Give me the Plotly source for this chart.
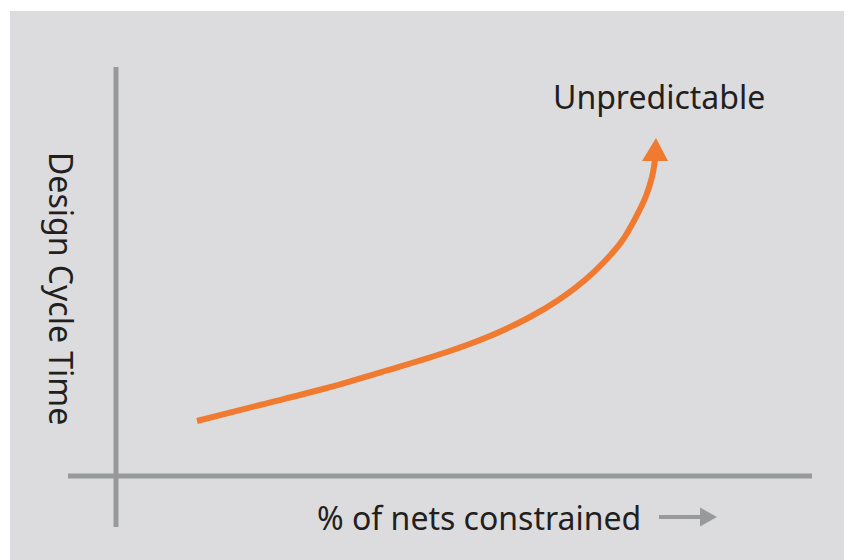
import plotly.graph_objects as go

# Curve data (x: % of nets constrained, y: design cycle time), arbitrary units
curve_x = [81, 144, 207, 269, 331, 374, 414, 444, 469, 489, 506, 520, 530, 536, 539]
curve_y = [55, 71, 87, 105, 124, 140, 159, 177, 196, 215, 235, 259, 280, 299, 316]

x_label = "% of nets constrained"
y_label = "Design Cycle Time"
end_label = "Unpredictable"

ORANGE = "#f07a2f"
GRAY = "#98999b"
BG = "#dcdcde"
TEXT = "#231f20"
FONT = "Noto Sans"

fig = go.Figure()

# Main curve
fig.add_trace(go.Scatter(
    x=curve_x, y=curve_y, mode="lines",
    line=dict(color=ORANGE, width=6, shape="spline", smoothing=1.0),
    hoverinfo="skip", showlegend=False,
))

# Arrowhead at curve end
hx, hy = curve_x[-1], curve_y[-1] - 1
head_len, head_half = 23, 13
fig.add_trace(go.Scatter(
    x=[hx - head_half, hx + head_half, hx + 1, hx - head_half],
    y=[hy, hy, hy + head_len, hy],
    mode="lines", fill="toself", fillcolor=ORANGE,
    line=dict(color=ORANGE, width=0),
    hoverinfo="skip", showlegend=False,
))

# Small gray arrow next to the x label
ax0, ax1, ay = 543, 586, -41
fig.add_trace(go.Scatter(
    x=[ax0, ax1], y=[ay, ay], mode="lines",
    line=dict(color=GRAY, width=4), hoverinfo="skip", showlegend=False,
))
fig.add_trace(go.Scatter(
    x=[ax1 - 2, ax1 + 15, ax1 - 2, ax1 - 2],
    y=[ay + 9.5, ay, ay - 9.5, ay + 9.5],
    mode="lines", fill="toself", fillcolor=GRAY,
    line=dict(color=GRAY, width=0), hoverinfo="skip", showlegend=False,
))

shapes = [
    dict(type="line", x0=0, x1=0, y0=-51, y1=409, line=dict(color=GRAY, width=5), layer="below"),
    dict(type="line", x0=-48, x1=696, y0=0, y1=0, line=dict(color=GRAY, width=5), layer="below"),
]

annotations = [
    dict(x=543, y=380, text=end_label, showarrow=False, xanchor="center", yanchor="middle",
         font=dict(family=FONT, size=32, color=TEXT)),
    dict(x=363, y=-41, text=x_label, showarrow=False, xanchor="center", yanchor="middle",
         font=dict(family=FONT, size=32, color=TEXT)),
    dict(x=-54, y=188, text=y_label, showarrow=False, textangle=90, xanchor="center", yanchor="middle",
         font=dict(family=FONT, size=32, color=TEXT)),
]

# The page body adds an 8px offset; margins compensate so the grey panel starts at (10, 11)
fig.update_layout(
    width=852, height=560,
    margin=dict(l=2, r=0, t=3, b=0),
    paper_bgcolor="white", plot_bgcolor=BG,
    xaxis=dict(range=[-106, 744], visible=False, fixedrange=True),
    yaxis=dict(range=[-92, 465], visible=False, fixedrange=True),
    shapes=shapes, annotations=annotations,
    showlegend=False,
)

fig.write_html("out.html", config={"displayModeBar": False})
